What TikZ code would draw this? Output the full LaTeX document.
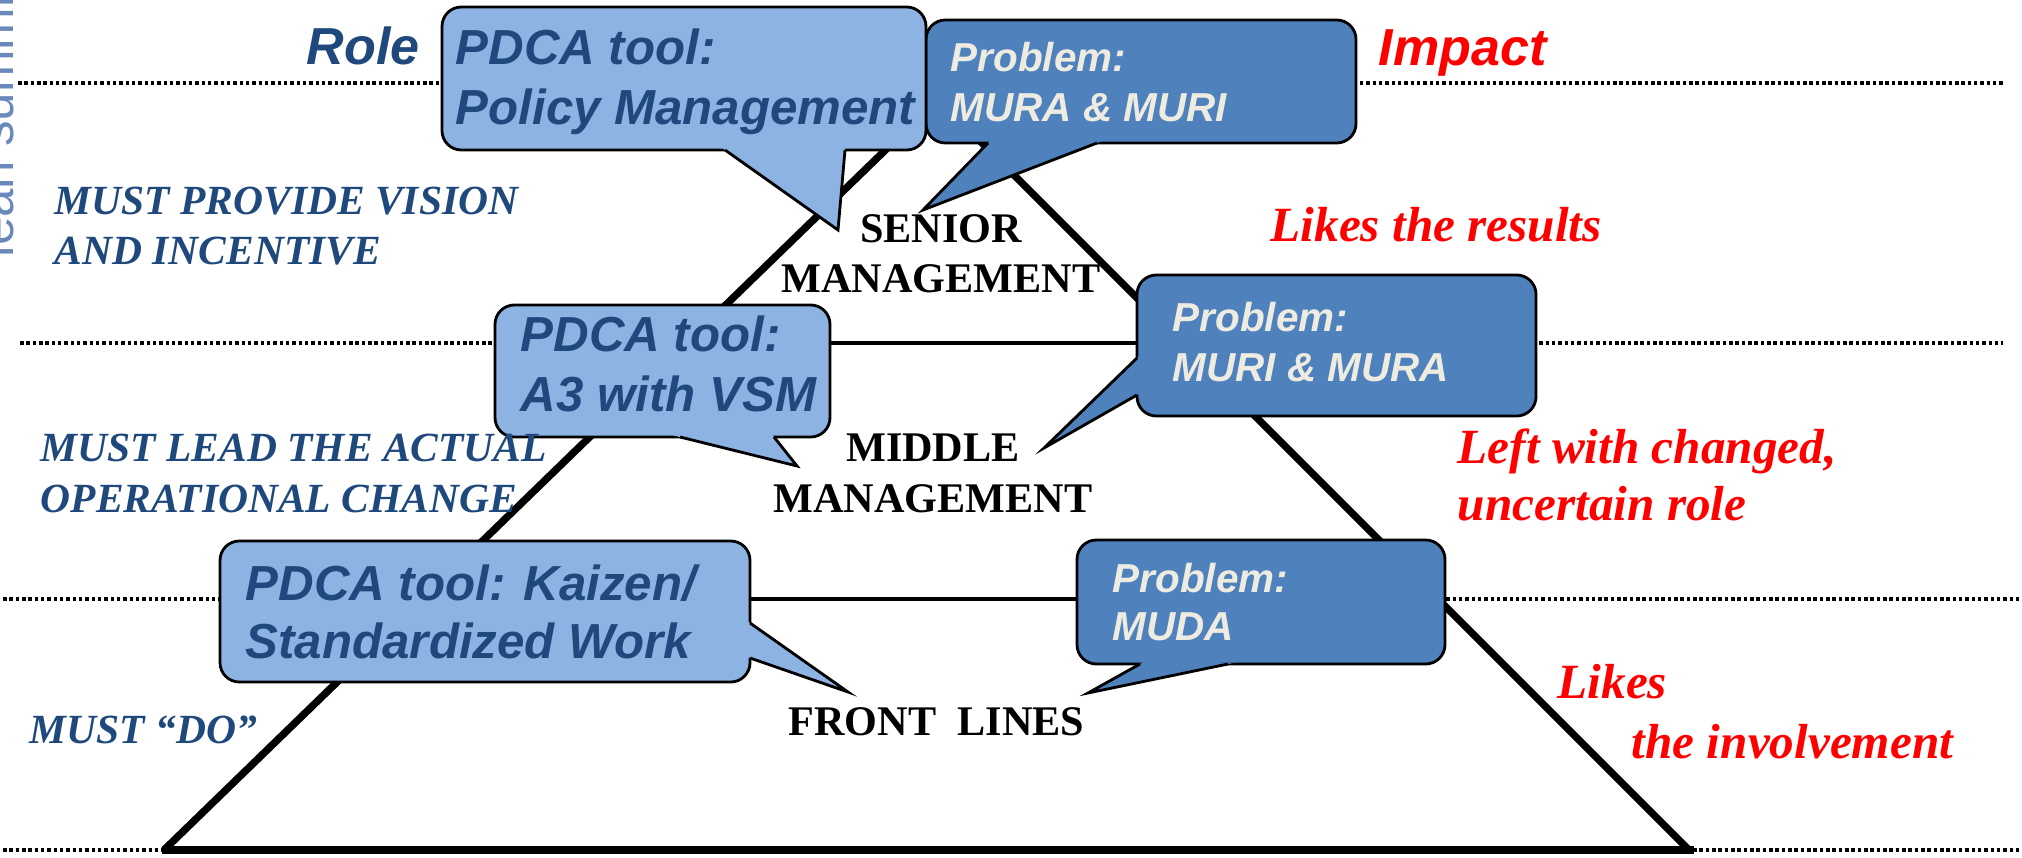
\documentclass[tikz,border=0pt]{standalone}
\usepackage{fontspec}
\setmainfont{Liberation Serif}
\setsansfont{Liberation Sans}
\usetikzlibrary{calc}
\definecolor{lightbub}{HTML}{8DB3E2}
\definecolor{darkbub}{HTML}{4F81BD}
\definecolor{navytxt}{HTML}{1F497D}
\definecolor{creamtxt}{HTML}{EEECE1}
\definecolor{wmarkc}{HTML}{4F74B0}
\begin{document}
\begin{tikzpicture}[x=0.01cm,y=-0.01cm,
  dotline/.style={line width=1pt, dash pattern=on 1pt off 0.8pt},
  bubline/.style={line width=0.8pt, draw=black, line join=miter},
  bigtxt/.style={anchor=base west, inner sep=0pt, text=navytxt,
    font=\sffamily\bfseries\itshape\fontsize{14}{17}\selectfont},
  smalltxt/.style={anchor=base west, inner sep=0pt, text=creamtxt,
    font=\sffamily\bfseries\itshape\fontsize{11.5}{14}\selectfont},
  headtxt/.style={anchor=base west, inner sep=0pt,
    font=\sffamily\bfseries\itshape\fontsize{14.8}{17}\selectfont},
  roletxt/.style={anchor=base west, inner sep=0pt, text=navytxt,
    font=\rmfamily\bfseries\itshape\fontsize{11.8}{14}\selectfont},
  leveltxt/.style={anchor=base, inner sep=0pt, text=black,
    font=\rmfamily\bfseries\fontsize{12}{14}\selectfont},
  redtxt/.style={anchor=base west, inner sep=0pt, text=red,
    font=\rmfamily\bfseries\itshape\fontsize{14}{17}\selectfont}
]
\useasboundingbox (0,0) rectangle (2022,858);

% faint watermark at the left edge (cut by the page edge, as in the slide)
\begin{scope}
  \clip (0,0) rectangle (2022,858);
  \node[anchor=base west, inner sep=0pt, rotate=90, text=wmarkc, opacity=0.85,
        font=\sffamily\fontsize{14.5}{17}\selectfont] (wm) at (14,258) {lean summit};
\end{scope}

% dotted level lines
\draw[dotline] (18,83) -- (2005,83);
\draw[dotline] (20,343) -- (2003,343);
\draw[dotline] (3,599) -- (2020,599);
\draw[dotline] (3,850) -- (2020,850);

% pyramid
\coordinate (apex) at (938,99);
\coordinate (bl) at (164,850);
\coordinate (br) at (1689,850);
\draw[line width=2.1pt, line join=miter] (bl) -- (apex) -- (br);
\draw[line width=1pt] (686,343) -- (1182,343);
\draw[line width=1pt] (423,599) -- (1438,599);
\draw[line width=2.5pt] (162,850) -- (1694,850);

% bubble 2 (behind bubble 1)
\fill[darkbub, bubline, rounded corners=5.5pt] (926,20) rectangle (1356,143);
\coordinate (b2a) at (988,143); \coordinate (b2b) at (1097,143); \coordinate (b2t) at (923,210);
\fill[darkbub] ($(b2a)!-2pt!(b2t)$) -- (b2t) -- ($(b2b)!-2pt!(b2t)$) -- cycle;
\draw[bubline] (b2a) -- (b2t) -- (b2b);

% bubble 1
\fill[lightbub, bubline, rounded corners=5.5pt] (442,7) rectangle (926,150);
\coordinate (b1a) at (725,150); \coordinate (b1b) at (845,150); \coordinate (b1t) at (838,230);
\fill[lightbub] ($(b1a)!-2pt!(b1t)$) -- (b1t) -- ($(b1b)!-2pt!(b1t)$) -- cycle;
\draw[bubline] (b1a) -- (b1t) -- (b1b);

% bubble 3
\fill[lightbub, bubline, rounded corners=5.5pt] (495,305) rectangle (830,437);
\coordinate (b3a) at (680,437); \coordinate (b3b) at (774,437); \coordinate (b3t) at (797,466);
\fill[lightbub] ($(b3a)!-2pt!(b3t)$) -- (b3t) -- ($(b3b)!-2pt!(b3t)$) -- cycle;
\draw[bubline] (b3a) -- (b3t) -- (b3b);

% bubble 4
\fill[darkbub, bubline, rounded corners=5.5pt] (1137,275) rectangle (1536,416);
\coordinate (b4a) at (1137,358); \coordinate (b4b) at (1137,395); \coordinate (b4t) at (1044,448);
\fill[darkbub] ($(b4a)!-2pt!(b4t)$) -- (b4t) -- ($(b4b)!-2pt!(b4t)$) -- cycle;
\draw[bubline] (b4a) -- (b4t) -- (b4b);

% bubble 5
\fill[lightbub, bubline, rounded corners=5.5pt] (220,541) rectangle (750,682);
\coordinate (b5a) at (750,623); \coordinate (b5b) at (750,658); \coordinate (b5t) at (848,692);
\fill[lightbub] ($(b5a)!-2pt!(b5t)$) -- (b5t) -- ($(b5b)!-2pt!(b5t)$) -- cycle;
\draw[bubline] (b5a) -- (b5t) -- (b5b);

% bubble 6
\fill[darkbub, bubline, rounded corners=5.5pt] (1077,540) rectangle (1445,664);
\coordinate (b6a) at (1140,664); \coordinate (b6b) at (1228,664); \coordinate (b6t) at (1088,693);
\fill[darkbub] ($(b6a)!-2pt!(b6t)$) -- (b6t) -- ($(b6b)!-2pt!(b6t)$) -- cycle;
\draw[bubline] (b6a) -- (b6t) -- (b6b);

% bubble texts
\node[bigtxt] (b1l1) at (455,65) {PDCA tool:};
\node[bigtxt] (b1l2) at (455,125) {Policy Management};
\node[smalltxt] (b2l1) at (950,72) {Problem:};
\node[smalltxt] (b2l2) at (950,122) {MURA \& MURI};
\node[bigtxt] (b3l1) at (520,352) {PDCA tool:};
\node[bigtxt] (b3l2) at (520,412) {A3 with VSM};
\node[smalltxt] (b4l1) at (1172,332) {Problem:};
\node[smalltxt] (b4l2) at (1172,382) {MURI \& MURA};
\node[bigtxt] (b5l1) at (245,600) {PDCA tool: Kaizen/};
\node[bigtxt] (b5l2) at (245,658) {Standardized Work};
\node[smalltxt] (b6l1) at (1112,592) {Problem:};
\node[smalltxt] (b6l2) at (1112,640) {MUDA};

% headings
\node[headtxt, text=navytxt] (role) at (306,65) {Role};
\node[headtxt, text=red] (impact) at (1378,66) {Impact};

% roles (left)
\node[roletxt] (r1a) at (54,215) {MUST PROVIDE VISION};
\node[roletxt] (r1b) at (54,265) {AND INCENTIVE};
\node[roletxt] (r2a) at (40,462) {MUST LEAD THE ACTUAL};
\node[roletxt] (r2b) at (40,512) {OPERATIONAL CHANGE};
\node[roletxt] (r3a) at (29,743) {MUST “DO”};

% levels
\node[leveltxt] (s1) at (941,243) {SENIOR};
\node[leveltxt] (s2) at (941,293) {MANAGEMENT};
\node[leveltxt] (m1) at (933,462) {MIDDLE};
\node[leveltxt] (m2) at (933,512) {MANAGEMENT};
\node[leveltxt, anchor=base west] (f1) at (788,735) {FRONT\ \ LINES};

% impacts (right)
\node[redtxt] (i1) at (1270,242) {Likes the results};
\node[redtxt] (i2a) at (1457,463) {Left with changed,};
\node[redtxt] (i2b) at (1457,520) {uncertain role};
\node[redtxt] (i3a) at (1557,698) {Likes};
\node[redtxt] (i3b) at (1631,758) {the involvement};
\end{tikzpicture}
\end{document}
